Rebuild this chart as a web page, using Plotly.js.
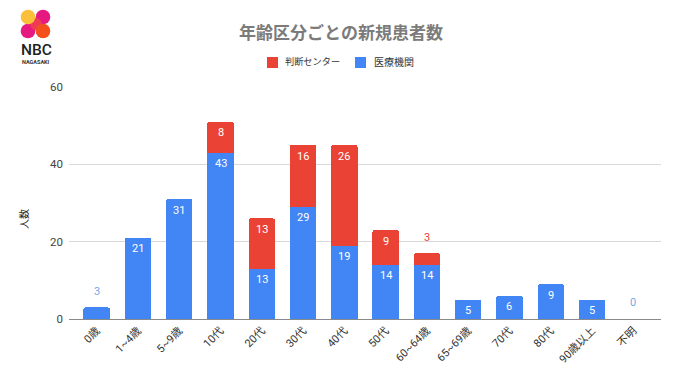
<!DOCTYPE html>
<html><head><meta charset="utf-8">
<script src="https://cdn.plot.ly/plotly-3.0.1.min.js"></script>
<style>html,body{margin:0;padding:0;background:#fff}#c{width:680px;height:382px}</style>
</head><body><div id="c"></div>
<script>
const categories=['0歳','1~4歳','5~9歳','10代','20代','30代','40代','50代','60~64歳','65~69歳','70代','80代','90歳以上','不明'];
const hospital=[3,21,31,43,13,29,19,14,14,5,6,9,5,0];
const center=[0,0,0,8,13,16,26,9,3,0,0,0,0,0];
const seriesNames=['判断センター','医療機関'];
const yTicks=[0,20,40,60];
const W=680,H=382,L=69,R=19,T=87,B=63;
const FONT='Roboto, "Noto Sans CJK JP", sans-serif';
const BLUE='#4285f4',RED='#ea4335';
const ann=[];
function lab(i,y,txt,color,shift){ann.push({xref:'x',yref:'y',x:i,y:y,text:String(txt),showarrow:false,yshift:shift,
  font:{family:FONT,size:11,color:color},xanchor:'center',yanchor:'middle'});}
hospital.forEach((v,i)=>{
  if(v===0)lab(i,0,v,'#7aa7e8',17);
  else if(v<=3)lab(i,v,v,'#7aa7e8',16);
  else lab(i,v,v,'#ffffff',-11);
});
center.forEach((v,i)=>{
  if(v===0)return;
  const top=hospital[i]+v;
  if(v<=3)lab(i,top,v,RED,16);
  else lab(i,top,v,'#ffffff',-11);
});
const pxX=x=>(x-L)/(W-L-R), pxY=y=>1-(y-T)/(H-T-B);
function dot(cx,cy,r,c){return {type:'circle',xref:'paper',yref:'paper',layer:'above',
  x0:pxX(cx-r),x1:pxX(cx+r),y0:pxY(cy+r),y1:pxY(cy-r),fillcolor:c,line:{width:0}};}
function box(x0,y0,x1,y1,c){return {type:'rect',xref:'paper',yref:'paper',layer:'above',
  x0:pxX(x0),x1:pxX(x1),y0:pxY(y1),y1:pxY(y0),fillcolor:c,line:{width:0}};}
function pa(x,y,txt,size,weight,color,anchor,angle){return {xref:'paper',yref:'paper',x:pxX(x),y:pxY(y),text:txt,showarrow:false,textangle:angle||0,
  font:{family:FONT,size:size,color:color,weight:weight},xanchor:anchor||'center',yanchor:'middle'};}
const shapes=[
  dot(43,17,7.3,'#e5197f'),dot(28,31,7.3,'#e5197f'),
  dot(36,24,6,'#ee3a55'),dot(43,31,7.3,'#f4501e'),dot(28,17,7.3,'#fbbf3a'),
  box(267,57,278,68,RED),box(355,57,366,68,BLUE)
];
ann.push(pa(36,50,'NBC',15.5,500,'#222'));
ann.push(pa(36,61.5,'NAGASAKI',5.5,700,'#333'));
ann.push(pa(283,62,seriesNames[0],9.2,400,'#333','left'));
ann.push(pa(372,62,seriesNames[1],10,400,'#333','left'));
ann.push(pa(24,219,'人数',10,400,'#222','center',-90));
Plotly.newPlot('c',[
 {type:'bar',name:seriesNames[1],x:categories,y:hospital,marker:{color:BLUE},width:0.64,hoverinfo:'none'},
 {type:'bar',name:seriesNames[0],x:categories,y:center,marker:{color:RED},width:0.64,hoverinfo:'none'}
],{
 width:W,height:H,margin:{l:L,r:R,t:T,b:B,pad:0},barmode:'stack',barcornerradius:2,paper_bgcolor:'#fff',plot_bgcolor:'#fff',
 font:{family:FONT},
 title:{text:'年齢区分ごとの新規患者数',font:{family:FONT,size:17,color:'#7b7b7b',weight:700},x:341/W,xanchor:'center',xref:'container',y:1-33/H,yanchor:'middle'},
 showlegend:false,
 xaxis:{type:'category',categoryorder:'array',categoryarray:categories,range:[-0.67,13.67],tickangle:-45,
   tickfont:{family:FONT,size:11,color:'#333'},ticks:'',showgrid:false,zeroline:false,showline:true,linecolor:'#8a8a8a',linewidth:1,automargin:false,fixedrange:true},
 yaxis:{range:[0,60],tickvals:yTicks,ticktext:yTicks.map(String),tickfont:{family:FONT,size:11.5,color:'#444'},ticks:'',ticklen:0,ticklabelstandoff:5,
   gridcolor:'#d9d9d9',gridwidth:1,zeroline:false,showline:false,automargin:false,fixedrange:true},
 annotations:ann,shapes:shapes
},{displayModeBar:false,staticPlot:true});
</script></body></html>
